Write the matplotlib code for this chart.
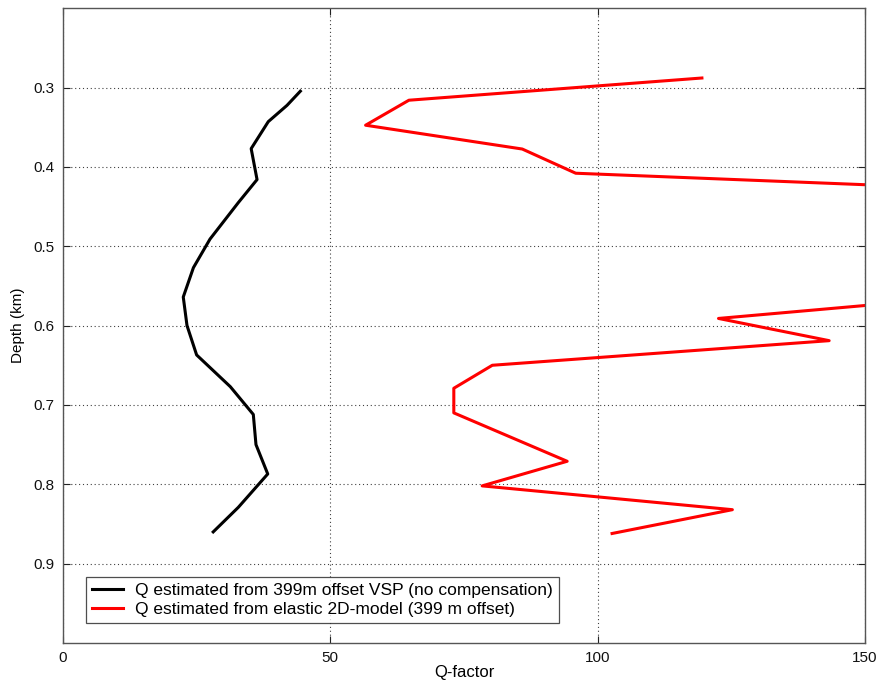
import matplotlib
matplotlib.use("Agg")
import matplotlib.pyplot as plt

plt.rcParams['font.family'] = ['Liberation Sans', 'DejaVu Sans']

# Q from the 399 m offset VSP (no compensation)
vsp_depth = [0.3046, 0.3225, 0.343, 0.377, 0.416, 0.445, 0.491, 0.527, 0.564,
             0.600, 0.637, 0.677, 0.712, 0.750, 0.787, 0.829, 0.860]
vsp_q = [44.4, 41.9, 38.4, 35.2, 36.3, 32.8, 27.5, 24.4, 22.5,
         23.2, 25.0, 31.3, 35.6, 36.1, 38.3, 32.8, 28.1]

# Q from the elastic 2D model (399 m offset); some values exceed the x-range
model_depth = [0.288, 0.316, 0.3475, 0.3775, 0.408, 0.438, 0.468, 0.500, 0.530,
               0.561, 0.591, 0.619, 0.650, 0.679, 0.710, 0.771, 0.802, 0.832, 0.862]
model_q = [119.5, 64.7, 56.6, 85.9, 95.9, 208.0, 230.0, 215.0, 190.0,
           173.0, 122.6, 143.3, 80.3, 73.1, 73.1, 94.3, 78.4, 125.2, 102.7]

x_ticks = [0, 50, 100, 150]
y_ticks = [0.3, 0.4, 0.5, 0.6, 0.7, 0.8, 0.9]

fig = plt.figure(figsize=(8.83, 6.81), dpi=100)
ax = fig.add_axes([0.0713, 0.0558, 0.9083, 0.9322])

ax.plot(vsp_q, vsp_depth, color='black', lw=2.2,
        label='Q estimated from 399m offset VSP (no compensation)')
ax.plot(model_q, model_depth, color='red', lw=2.2,
        label='Q estimated from elastic 2D-model (399 m offset)')

ax.set_xlim(0, 150)
ax.set_ylim(1.0, 0.2)
ax.set_xticks(x_ticks)
ax.set_xticklabels([str(t) for t in x_ticks])
ax.set_yticks(y_ticks)
ax.set_yticklabels([f"{t:.1f}" for t in y_ticks])

ax.grid(True, color='black', linestyle=(0, (1, 2.5)), linewidth=0.8, alpha=0.75)
ax.tick_params(direction='in', top=True, right=True, length=5, width=0.8,
               labelsize=11, colors='#222222', labelcolor='#111111', pad=6)
for sp in ax.spines.values():
    sp.set_color('#555555')
    sp.set_linewidth(1.0)

ax.set_xlabel('Q-factor', fontsize=12, labelpad=0)
ax.set_ylabel('Depth (km)', fontsize=11, labelpad=6)

leg = ax.legend(loc='lower left', bbox_to_anchor=(0.0287, 0.0315), fontsize=12.5,
                frameon=True, fancybox=False, handlelength=1.8,
                borderpad=0.35, labelspacing=0.22, handletextpad=0.7,
                borderaxespad=0)
leg.get_frame().set_edgecolor('#222222')
leg.get_frame().set_linewidth(0.9)

fig.savefig('out.png', dpi=100)
